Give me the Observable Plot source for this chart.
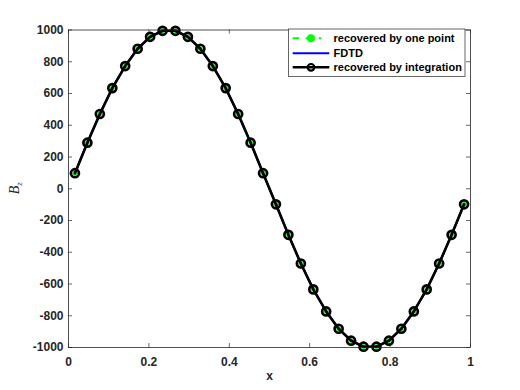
<!DOCTYPE html>
<html>
<head>
<meta charset="utf-8">
<script src="https://cdn.jsdelivr.net/npm/d3@7"></script>
<script src="https://cdn.jsdelivr.net/npm/@observablehq/plot@0.6"></script>
<style>
  html, body { margin: 0; padding: 0; background: #fff; }
  #chart { width: 520px; height: 390px; }
</style>
</head>
<body>
<div id="chart"></div>
<script>
// x positions of the samples
const xs = [0.016, 0.047, 0.078, 0.109, 0.141, 0.172, 0.203, 0.234,
            0.266, 0.297, 0.328, 0.359, 0.391, 0.422, 0.453, 0.484,
            0.516, 0.547, 0.578, 0.609, 0.641, 0.672, 0.703, 0.734,
            0.766, 0.797, 0.828, 0.859, 0.891, 0.922, 0.953, 0.984];
// recovered by one point
const onePoint = [98, 290, 471, 634, 773, 882, 957, 995,
                  995, 957, 882, 773, 634, 471, 290, 98,
                  -98, -290, -471, -634, -773, -882, -957, -995,
                  -995, -957, -882, -773, -634, -471, -290, -98];
// FDTD
const fdtd = [98, 290, 471, 634, 773, 882, 957, 995,
              995, 957, 882, 773, 634, 471, 290, 98,
              -98, -290, -471, -634, -773, -882, -957, -995,
              -995, -957, -882, -773, -634, -471, -290, -98];
// recovered by integration
const integration = [98, 290, 471, 634, 773, 882, 957, 995,
                     995, 957, 882, 773, 634, 471, 290, 98,
                     -98, -290, -471, -634, -773, -882, -957, -995,
                     -995, -957, -882, -773, -634, -471, -290, -98];

const xTicks = [0, 0.2, 0.4, 0.6, 0.8, 1];
const xTickLabels = ["0", "0.2", "0.4", "0.6", "0.8", "1"];
const yTicks = [-1000, -800, -600, -400, -200, 0, 200, 400, 600, 800, 1000];
const yTickLabels = ["-1000", "-800", "-600", "-400", "-200", "0", "200", "400", "600", "800", "1000"];
const seriesNames = ["recovered by one point", "FDTD", "recovered by integration"];
const xLabel = "x";

const rows = (ys) => xs.map((x, i) => ({x, y: ys[i]}));
const dOne = rows(onePoint), dFdtd = rows(fdtd), dInt = rows(integration);

const W = 520, H = 390;
const mL = 68, mR = 50, mT = 29.5, mB = 43;
const innerW = W - mL - mR, innerH = H - mT - mB;
const axisColor = "#262626";
const font = "'Liberation Sans', Arial, Helvetica, sans-serif";

const chart = Plot.plot({
  width: W, height: H,
  marginLeft: mL, marginRight: mR, marginTop: mT, marginBottom: mB,
  style: {fontFamily: font, fontSize: "12px", fontWeight: "bold", color: axisColor, background: "#fff", overflow: "visible"},
  x: {domain: [0, 1]},
  y: {domain: [-1000, 1000]},
  marks: [
    Plot.axisX(xTicks, {tickSize: 0, tickPadding: 10, tickFormat: (d, i) => xTickLabels[i], label: null, fill: axisColor}),
    Plot.axisY(yTicks, {tickSize: 0, tickPadding: 5, tickFormat: (d, i) => yTickLabels[i], label: null, fill: axisColor}),
    // inward ticks on all four sides
    Plot.tickX(xTicks, {x: d => d, insetTop: innerH - 4, stroke: axisColor, strokeWidth: 0.7}),
    Plot.tickX(xTicks, {x: d => d, insetBottom: innerH - 4, stroke: axisColor, strokeWidth: 0.7}),
    Plot.tickY(yTicks, {y: d => d, insetRight: innerW - 4, stroke: axisColor, strokeWidth: 0.7}),
    Plot.tickY(yTicks, {y: d => d, insetLeft: innerW - 4, stroke: axisColor, strokeWidth: 0.7}),
    // series
    Plot.line(dOne, {x: "x", y: "y", stroke: "#00ff00", strokeWidth: 2, strokeDasharray: "6,4"}),
    Plot.dot(dOne, {x: "x", y: "y", r: 2.4, fill: "#00ff00", stroke: "none"}),
    Plot.line(dFdtd, {x: "x", y: "y", stroke: "#0000ff", strokeWidth: 2}),
    Plot.line(dInt, {x: "x", y: "y", stroke: "#000", strokeWidth: 2.6}),
    Plot.dot(dInt, {x: "x", y: "y", r: 4, fill: "none", stroke: "#000", strokeWidth: 2.7}),
    Plot.frame({stroke: axisColor, strokeWidth: 0.8}),
    Plot.text([xLabel], {text: d => d, frameAnchor: "bottom", dy: 32, fontSize: 12, fontWeight: "bold", fill: axisColor})
  ]
});

const svg = d3.select(chart);

// y label: B_z (italic serif, subscript z)
const yl = svg.append("text")
  .attr("transform", `translate(19,${mT + innerH / 2}) rotate(-90)`)
  .attr("text-anchor", "middle")
  .attr("font-family", "'Liberation Serif', 'DejaVu Serif', serif")
  .attr("font-style", "italic")
  .attr("font-weight", "normal")
  .attr("font-size", 14)
  .attr("fill", axisColor);
yl.append("tspan").text("B");
yl.append("tspan").attr("font-size", 9).attr("dy", 3).text("z");

// legend
const lg = svg.append("g").attr("transform", "translate(288.5,29)");
lg.append("rect").attr("width", 176.5).attr("height", 47.5).attr("fill", "#fff").attr("stroke", axisColor).attr("stroke-width", 0.7);
const rowY = [9.3, 24.3, 38.3];
const x0 = 4.2, x1 = 40.8;
// one point
lg.append("line").attr("x1", x0).attr("x2", x1 - 8).attr("y1", rowY[0]).attr("y2", rowY[0])
  .attr("stroke", "#00ff00").attr("stroke-width", 2).attr("stroke-dasharray", "6.5,6.5");
lg.append("circle").attr("cx", 22.5).attr("cy", rowY[0]).attr("r", 4).attr("fill", "#00ff00");
// FDTD
lg.append("line").attr("x1", x0).attr("x2", x1).attr("y1", rowY[1]).attr("y2", rowY[1])
  .attr("stroke", "#0000ff").attr("stroke-width", 2);
// integration
lg.append("line").attr("x1", x0).attr("x2", x1).attr("y1", rowY[2]).attr("y2", rowY[2])
  .attr("stroke", "#000").attr("stroke-width", 2.4);
lg.append("circle").attr("cx", 22.5).attr("cy", rowY[2]).attr("r", 3.3).attr("fill", "none")
  .attr("stroke", "#000").attr("stroke-width", 2.2);
seriesNames.forEach((name, i) => {
  lg.append("text").attr("x", 45).attr("y", rowY[i]).attr("dy", "0.35em")
    .attr("text-anchor", "start")
    .attr("font-family", font).attr("font-weight", "bold").attr("font-size", 11)
    .attr("fill", "#000").text(name);
});

document.getElementById("chart").appendChild(chart);
</script>
</body>
</html>
